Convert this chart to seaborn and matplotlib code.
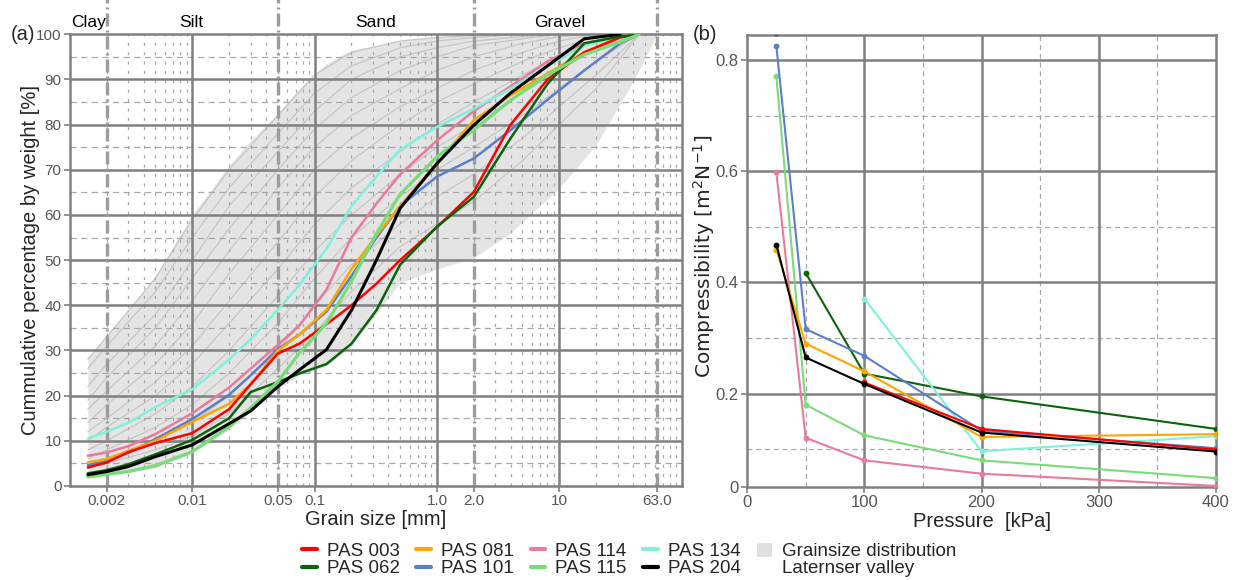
import numpy as np
import pandas as pd
import matplotlib
matplotlib.use("Agg")
import matplotlib.pyplot as plt
import seaborn as sns
from matplotlib.lines import Line2D
from matplotlib.patches import Patch

sns.set_theme(style="white")
plt.rcParams["font.family"] = ["Liberation Sans", "DejaVu Sans"]
plt.rcParams["mathtext.fontset"] = "dejavusans"

nan = np.nan

# ---------------- grain size distribution (cumulative % passing) ----------------
grain_mm = [0.0014, 0.002, 0.003, 0.005, 0.01, 0.02, 0.03, 0.05, 0.075, 0.125,
            0.2, 0.32, 0.5, 1.0, 2.0, 4.0, 8.0, 16.0, 31.5, 45.0]

pas_003 = [4.1, 5.2, 7.5, 9.5, 11.7, 17.0, 22.5, 29.3, 31.5, 35.8,
           40.0, 44.8, 50.0, 57.3, 65.1, 80.0, 90.0, 96.0, 99.3, 100.0]
pas_062 = [2.8, 3.5, 4.8, 7.0, 10.2, 15.0, 20.8, 23.0, 24.9, 27.0,
           31.5, 38.9, 49.0, 57.4, 64.0, 77.0, 89.0, 98.0, 99.5, 100.0]
pas_081 = [5.2, 6.0, 7.8, 10.0, 14.2, 18.2, 22.5, 30.0, 33.5, 39.0,
           48.0, 55.5, 62.0, 71.5, 81.0, 86.5, 91.3, 96.0, 99.4, 100.0]
pas_101 = [4.6, 5.6, 7.3, 10.4, 14.8, 20.2, 24.5, 30.3, 33.5, 38.6,
           46.5, 55.0, 62.0, 68.5, 72.5, 78.8, 85.5, 92.0, 98.0, 100.0]
pas_114 = [6.7, 7.4, 8.8, 11.5, 16.1, 21.8, 26.0, 31.2, 35.5, 43.5,
           55.0, 62.5, 69.0, 76.5, 83.0, 88.5, 94.0, 98.0, 99.5, 100.0]
pas_115 = [2.0, 2.6, 3.2, 4.5, 7.6, 13.1, 17.3, 23.1, 29.4, 36.0,
           45.3, 55.9, 64.6, 72.9, 78.8, 85.4, 91.0, 95.5, 98.3, 100.0]
pas_134 = [10.5, 12.0, 14.0, 17.5, 21.4, 28.0, 32.5, 39.0, 44.5, 52.5,
           62.0, 68.5, 74.5, 79.5, 83.5, 88.0, 93.0, 97.5, 99.5, 100.0]
pas_204 = [2.5, 3.2, 4.3, 6.5, 9.1, 13.8, 16.6, 22.0, 25.7, 30.2,
           38.9, 50.0, 61.5, 71.4, 79.9, 87.0, 93.0, 99.0, 100.0, nan]

samples = ["PAS 003", "PAS 062", "PAS 081", "PAS 101",
           "PAS 114", "PAS 115", "PAS 134", "PAS 204"]
sample_colors = ["#ff0000", "#0b640b", "#ffa500", "#5b7fcb",
                 "#ea7a9b", "#78dc78", "#80f0da", "#000000"]
grain_curves = [pas_003, pas_062, pas_081, pas_101,
                pas_114, pas_115, pas_134, pas_204]

# Regional envelope (Laternser valley) and its individual curves
env_mm = [0.0014, 0.002, 0.003, 0.005, 0.01, 0.02, 0.03, 0.05, 0.075, 0.125,
          0.2, 0.5, 1.0, 2.0, 4.0, 10.0, 20.0, 40.0, 63.0]
env_upper = [28.5, 33.5, 39.0, 46.5, 60.0, 71.0, 76.5, 82.5, 88.0, 93.5,
             96.5, 98.5, 99.3, 99.7, 100.0, 100.0, 100.0, 100.0, 100.0]
env_lower = [1.8, 2.3, 3.0, 4.0, 7.3, 12.5, 16.5, 21.5, 24.5, 26.5,
             31.0, 45.0, 48.0, 50.5, 56.0, 66.0, 75.5, 89.5, 100.0]

bg_mm = [0.0014, 0.002, 0.005, 0.01, 0.02, 0.05, 0.1, 0.2, 0.5, 1.0,
         2.0, 5.0, 10.0, 20.0, 45.0]
bg_curves = [
    [28, 33, 46, 59, 70, 82, 91, 96, 98.5, 99.3, 99.7, 100, 100, 100, 100],
    [26, 31, 43, 55, 66, 78, 87, 93, 97, 98.5, 99.3, 100, 100, 100, 100],
    [22, 27, 38, 50, 62, 74, 83, 90, 95, 97, 98.5, 99.5, 100, 100, 100],
    [19, 24, 35, 46, 57, 70, 79, 86, 92, 95, 97.5, 99, 100, 100, 100],
    [17, 21, 31, 41, 52, 66, 75, 82, 88, 92, 95, 98, 99.5, 100, 100],
    [14, 18, 27, 36, 47, 60, 70, 77, 84, 88, 92, 96, 98.5, 100, 100],
    [12, 15, 23, 31, 41, 54, 64, 72, 80, 85, 89, 94, 97, 99.5, 100],
    [10, 13, 20, 27, 36, 48, 58, 66, 74, 80, 85, 91, 95, 98.5, 100],
    [8, 10, 16, 22, 30, 42, 52, 60, 69, 75, 80, 87, 92, 97, 100],
    [6, 8, 13, 18, 25, 36, 46, 55, 64, 70, 75, 82, 88, 94, 100],
    [5, 6, 10, 14, 20, 30, 40, 49, 58, 64, 69, 77, 84, 91, 100],
    [4, 5, 8, 11, 16, 26, 34, 43, 53, 58, 63, 72, 80, 88, 100],
]

size_classes = ["Clay", "Silt", "Sand", "Gravel"]
class_bounds_mm = [0.002, 0.05, 2.0, 63.0]
class_label_mm = [0.00142, 0.0098, 0.315, 10.0]

grain_ticks = [0.002, 0.01, 0.05, 0.1, 1.0, 2.0, 10.0, 63.0]
grain_tick_labels = ["0.002", "0.01", "0.05", "0.1", "1.0", "2.0", "10", "63.0"]

# ---------------- compressibility vs pressure ----------------
pressure_kpa = [25, 50, 100, 200, 400]
comp_003 = [0.848, nan, 0.220, 0.1365, 0.0994]
comp_062 = [nan, 0.417, 0.236, 0.195, 0.1365]
comp_081 = [0.459, 0.290, 0.240, 0.122, 0.127]
comp_101 = [0.825, 0.316, 0.268, 0.1335, 0.1018]
comp_114 = [0.598, 0.1205, 0.080, 0.056, 0.034]
comp_115 = [0.771, 0.180, 0.125, 0.080, 0.048]
comp_134 = [nan, nan, 0.371, 0.0964, 0.1234]
comp_204 = [0.468, 0.265, 0.2174, 0.130, 0.0958]
comp_curves = [comp_003, comp_062, comp_081, comp_101,
               comp_114, comp_115, comp_134, comp_204]

# ---------------- styles ----------------
MAJOR = "#808080"
MINOR = "#a8a8a8"
TICKC = "#555555"
FS_LABEL = 14.5

fig = plt.figure(figsize=(12.36, 5.80), dpi=100)
ax1 = fig.add_axes([0.0566, 0.1621, 0.4949, 0.7788])
ax2 = fig.add_axes([0.6044, 0.1603, 0.3794, 0.7794])

# ===== panel (a) =====
ax1.set_xscale("log")
ax1.set_xlim(0.001, 100)
ax1.set_ylim(0, 100)

ax1.fill_between(env_mm, env_lower, env_upper, color="#e4e4e4", lw=0, zorder=0.2)
bg_df = pd.DataFrame({
    "grain": np.tile(bg_mm, len(bg_curves)),
    "pct": np.concatenate(bg_curves),
    "curve": np.repeat(np.arange(len(bg_curves)), len(bg_mm)),
})
sns.lineplot(data=bg_df, x="grain", y="pct", units="curve", estimator=None,
             sort=False, color="#c6c6c6", linewidth=0.9, ax=ax1, legend=False,
             zorder=0.3)

# grid: decades solid, intermediate values dashed
for e in range(-3, 2):
    for k in range(2, 10):
        ax1.axvline(k * 10.0 ** e, color=MINOR, lw=0.9, ls=(0, (2.5, 5)), zorder=0.6)
for xv in [0.01, 0.1, 1, 10]:
    ax1.axvline(xv, color=MAJOR, lw=1.8, zorder=0.7)
for yv in range(5, 100, 10):
    ax1.axhline(yv, color=MINOR, lw=0.9, ls=(0, (5, 3.5)), zorder=0.6)
for yv in range(10, 100, 10):
    ax1.axhline(yv, color=MAJOR, lw=1.8, zorder=0.7)

# size-class boundaries reaching above the frame
for xb in class_bounds_mm:
    ax1.plot([xb, xb], [0, 108], color="#9c9c9c", lw=2.4,
             ls=(0, (3.9, 1.2, 0.6, 1.2)), clip_on=False, zorder=0.8)
for name, xl in zip(size_classes, class_label_mm):
    ax1.text(xl, 102.5, name, ha="center", va="center", fontsize=12.5,
             color="black", clip_on=False)

grain_df = pd.DataFrame({
    "grain": np.tile(grain_mm, len(samples)),
    "pct": np.concatenate(grain_curves),
    "sample": np.repeat(samples, len(grain_mm)),
}).dropna()
draw_order = ["PAS 114", "PAS 134", "PAS 101", "PAS 081",
              "PAS 003", "PAS 062", "PAS 115", "PAS 204"]
widths = {"PAS 115": 2.3, "PAS 204": 2.2}
palette = dict(zip(samples, sample_colors))
for s in draw_order:
    sns.lineplot(data=grain_df[grain_df["sample"] == s], x="grain", y="pct",
                 sort=False, estimator=None, color=palette[s],
                 linewidth=widths.get(s, 1.8), ax=ax1, legend=False, zorder=3)

ax1.set_xticks(grain_ticks)
ax1.set_xticklabels(grain_tick_labels)
ax1.xaxis.set_minor_locator(matplotlib.ticker.NullLocator())
ax1.set_yticks(range(0, 101, 10))
ax1.tick_params(axis="both", which="major", direction="out", length=4, width=1.2,
                color=MAJOR, labelcolor=TICKC, labelsize=11, pad=2,
                bottom=True, left=True)
for sp in ax1.spines.values():
    sp.set_color(MAJOR)
    sp.set_linewidth(1.8)
ax1.set_xlabel("Grain size [mm]", fontsize=FS_LABEL, labelpad=1)
ax1.set_ylabel("Cummulative percentage by weight [%]", fontsize=FS_LABEL, labelpad=-3)
fig.text(0.0185, 0.94, "(a)", fontsize=14.5, ha="center", va="center")

# ===== panel (b) =====
comp_rows = []
for s, vals in zip(samples, comp_curves):
    seg = 0
    for p, v in zip(pressure_kpa, vals):
        if np.isnan(v):
            seg += 1
            continue
        comp_rows.append((s, f"{s}-{seg}", p, v))
comp_df = pd.DataFrame(comp_rows, columns=["sample", "segment", "pressure", "comp"])

ax2.set_xlim(0, 400)
ax2.set_ylim(0.032, 0.845)
for xv in [50, 150, 250, 350]:
    ax2.axvline(xv, color=MINOR, lw=0.9, ls=(0, (4, 3)), zorder=0.6)
for yv in [0.1, 0.3, 0.5, 0.7]:
    ax2.axhline(yv, color=MINOR, lw=0.9, ls=(0, (4, 3)), zorder=0.6)
for xv in [100, 200, 300]:
    ax2.axvline(xv, color=MAJOR, lw=1.8, zorder=0.7)
for yv in [0.2, 0.4, 0.6, 0.8]:
    ax2.axhline(yv, color=MAJOR, lw=1.8, zorder=0.7)

comp_order = ["PAS 062", "PAS 134", "PAS 114", "PAS 115",
              "PAS 101", "PAS 081", "PAS 003", "PAS 204"]
for s in comp_order:
    sns.lineplot(data=comp_df[comp_df["sample"] == s], x="pressure", y="comp",
                 units="segment", estimator=None, sort=False, color=palette[s],
                 linewidth=1.5, marker="o", markersize=4.2, markeredgewidth=0,
                 ax=ax2, legend=False, zorder=3)

ax2.set_xticks([0, 100, 200, 300, 400])
ax2.set_yticks([0.032, 0.2, 0.4, 0.6, 0.8])
ax2.set_yticklabels(["0", "0.2", "0.4", "0.6", "0.8"])
ax2.tick_params(axis="both", direction="out", length=4, width=1.2, color=MAJOR,
                labelcolor=TICKC, labelsize=12, pad=2, bottom=True, left=True)
for sp in ax2.spines.values():
    sp.set_color(MAJOR)
    sp.set_linewidth(1.8)
ax2.set_xlabel("Pressure  [kPa]", fontsize=FS_LABEL, labelpad=1)
ax2.set_ylabel(r"Compressibility [m$^{2}$N$^{-1}$]", fontsize=14.5,
               family="DejaVu Sans", labelpad=0.5)
ax2.yaxis.set_label_coords(-0.064, 0.51)
fig.text(0.570, 0.94, "(b)", fontsize=14.5, ha="center", va="center")

# ===== shared legend =====
handles, labels = [], []
for i in range(0, 8, 2):
    for j in (i, i + 1):
        handles.append(Line2D([], [], color=sample_colors[j], lw=3))
        labels.append(samples[j])
handles.append(Patch(facecolor="#e0e0e0", edgecolor="none"))
labels.append("Grainsize distribution")
handles.append(Line2D([], [], color="none"))
labels.append("Laternser valley")
fig.legend(handles, labels, ncol=5, loc="center", bbox_to_anchor=(0.509, 0.0345),
           frameon=False, fontsize=13.5, handlelength=0.77, handleheight=0.77,
           handletextpad=0.53, columnspacing=0.9, labelspacing=-0.02,
           borderpad=0.1)

fig.savefig("out.png", dpi=100)
